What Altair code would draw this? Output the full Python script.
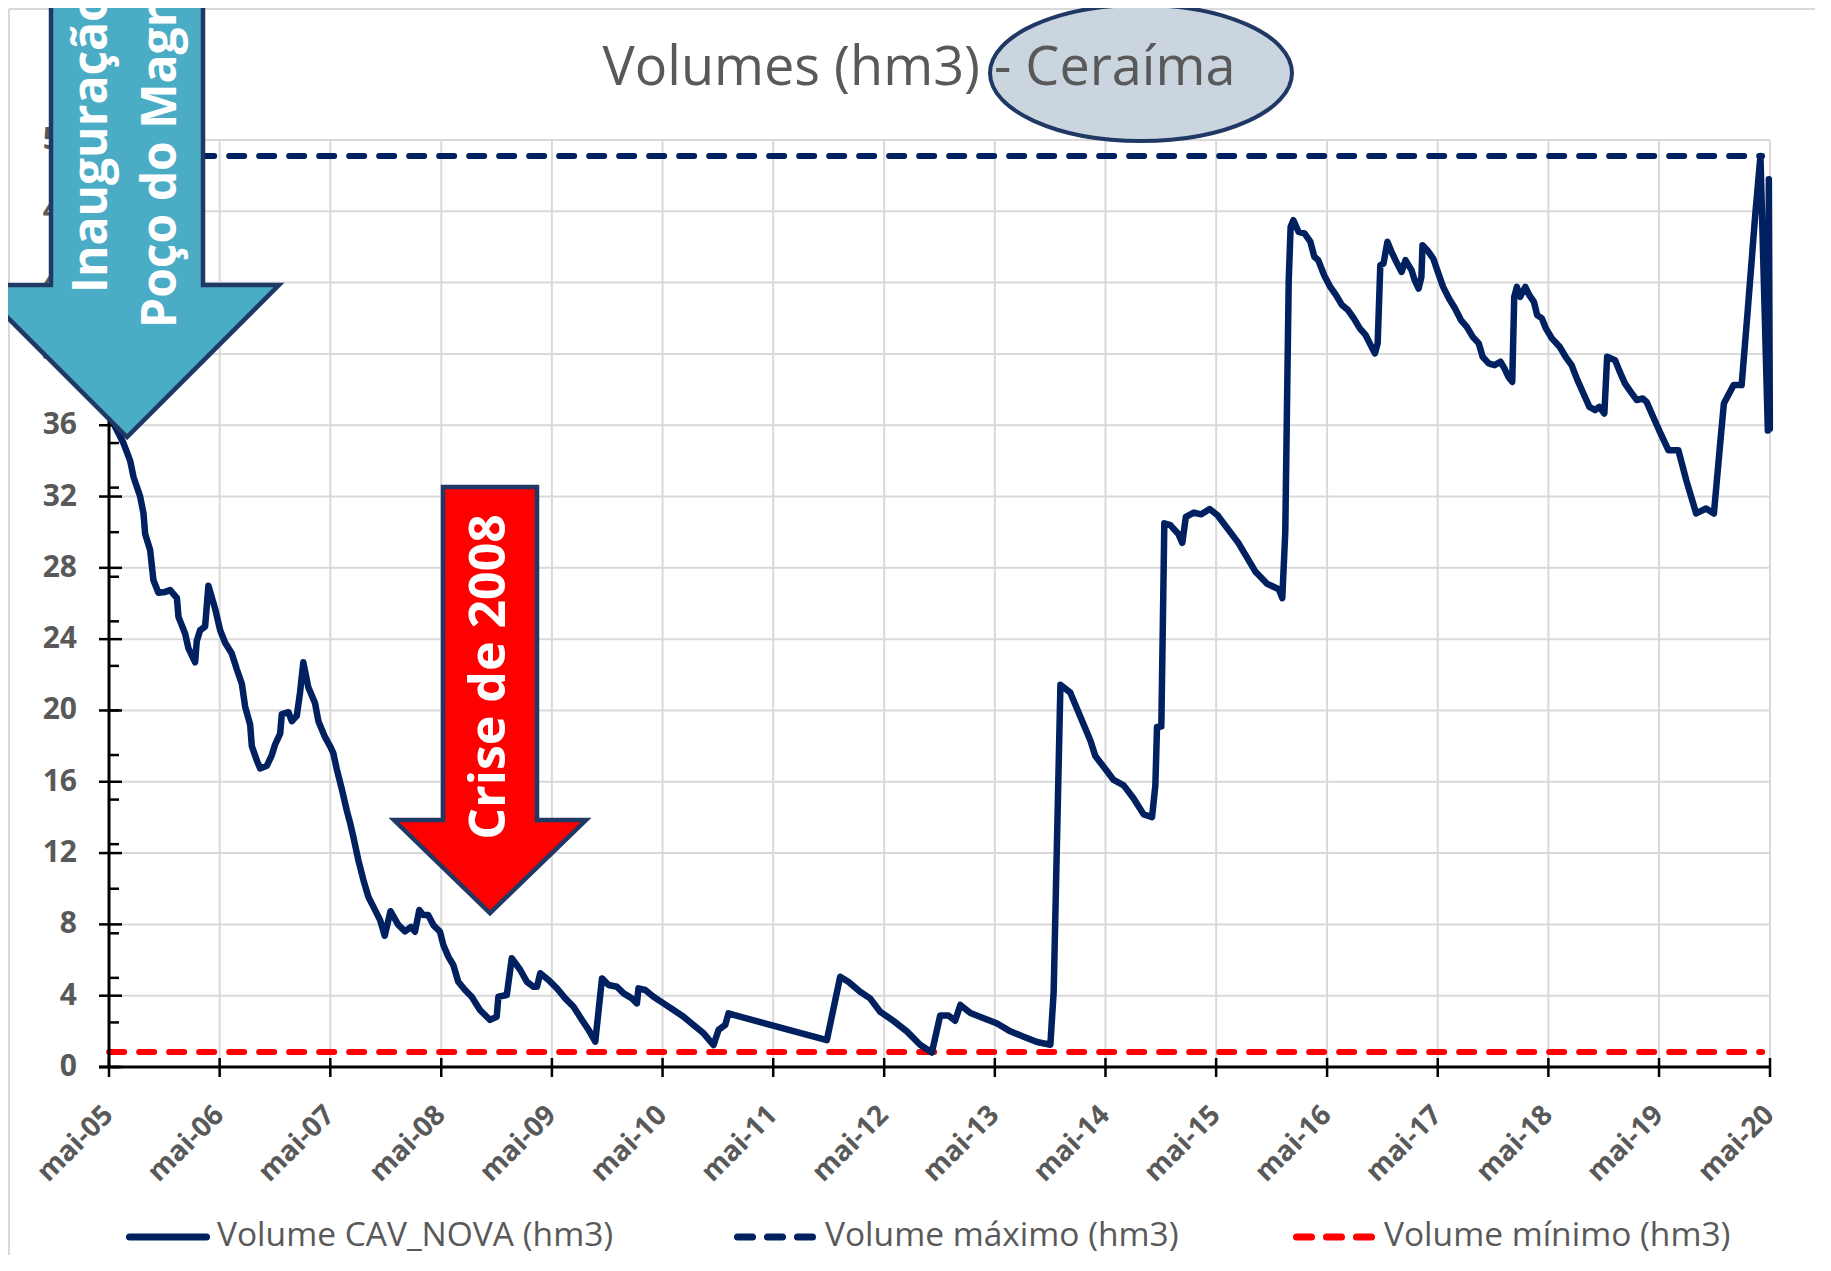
import altair as alt
import pandas as pd

# ---------------- data ----------------
# decimal year of each reading (May 1st 2005 = 2005.33)
years = [
    2005.330, 2005.369, 2005.459, 2005.520, 2005.550, 2005.610, 2005.640, 2005.655, 2005.700, 2005.730,
    2005.775, 2005.836, 2005.881, 2005.942, 2005.956, 2006.017, 2006.046, 2006.107, 2006.122, 2006.152,
    2006.197, 2006.227, 2006.288, 2006.333, 2006.378, 2006.438, 2006.484, 2006.529, 2006.559, 2006.604,
    2006.619, 2006.664, 2006.694, 2006.755, 2006.800, 2006.830, 2006.875, 2006.890, 2006.950, 2006.980,
    2007.026, 2007.055, 2007.085, 2007.130, 2007.191, 2007.221, 2007.281, 2007.326, 2007.356, 2007.387,
    2007.432, 2007.477, 2007.507, 2007.537, 2007.582, 2007.627, 2007.672, 2007.733, 2007.778, 2007.820,
    2007.872, 2007.941, 2008.004, 2008.058, 2008.094, 2008.133, 2008.169, 2008.214, 2008.260, 2008.320,
    2008.350, 2008.395, 2008.440, 2008.485, 2008.546, 2008.606, 2008.681, 2008.772, 2008.832, 2008.847,
    2008.923, 2008.968, 2009.043, 2009.103, 2009.163, 2009.194, 2009.223, 2009.298, 2009.374, 2009.449,
    2009.524, 2009.600, 2009.660, 2009.720, 2009.781, 2009.840, 2009.916, 2009.976, 2010.052, 2010.097,
    2010.111, 2010.172, 2010.247, 2010.337, 2010.428, 2010.518, 2010.608, 2010.699, 2010.789, 2010.834,
    2010.895, 2010.924, 2010.970, 2011.813, 2011.933, 2012.008, 2012.114, 2012.204, 2012.295, 2012.415,
    2012.536, 2012.656, 2012.762, 2012.837, 2012.912, 2012.972, 2013.017, 2013.108, 2013.228, 2013.349,
    2013.469, 2013.589, 2013.710, 2013.830, 2013.860, 2013.921, 2014.011, 2014.101, 2014.192, 2014.237,
    2014.312, 2014.402, 2014.493, 2014.583, 2014.673, 2014.749, 2014.779, 2014.794, 2014.833, 2014.860,
    2014.914, 2014.987, 2015.023, 2015.055, 2015.127, 2015.194, 2015.270, 2015.341, 2015.529, 2015.682,
    2015.791, 2015.895, 2015.926, 2015.953, 2015.984, 2016.002, 2016.027, 2016.073, 2016.127, 2016.180,
    2016.216, 2016.251, 2016.306, 2016.360, 2016.412, 2016.466, 2016.520, 2016.573, 2016.627, 2016.680,
    2016.717, 2016.763, 2016.788, 2016.812, 2016.841, 2016.876, 2016.913, 2016.949, 2017.002, 2017.037,
    2017.092, 2017.120, 2017.156, 2017.181, 2017.191, 2017.234, 2017.288, 2017.324, 2017.377, 2017.430,
    2017.485, 2017.538, 2017.591, 2017.645, 2017.699, 2017.734, 2017.788, 2017.841, 2017.895, 2017.931,
    2017.966, 2018.002, 2018.020, 2018.044, 2018.073, 2018.120, 2018.156, 2018.198, 2018.227, 2018.270,
    2018.306, 2018.360, 2018.430, 2018.484, 2018.538, 2018.591, 2018.645, 2018.699, 2018.752, 2018.788,
    2018.834, 2018.859, 2018.931, 2018.967, 2019.020, 2019.073, 2019.128, 2019.181, 2019.216, 2019.288,
    2019.342, 2019.413, 2019.503, 2019.574, 2019.664, 2019.753, 2019.824, 2019.878, 2019.914, 2020.002,
    2020.075, 2020.128, 2020.199, 2020.245, 2020.312, 2020.321, 2020.330,
]

# Volume CAV_NOVA (hm3)
volume = [
    37.2, 36.1, 35.0, 34.0, 33.1, 32.0, 31.05, 29.9, 29.0, 27.3,
    26.6, 26.65, 26.75, 26.3, 25.25, 24.3, 23.5, 22.7, 23.9, 24.5,
    24.7, 27.0, 25.7, 24.5, 23.8, 23.2, 22.3, 21.5, 20.2, 19.2,
    18.0, 17.2, 16.75, 16.9, 17.5, 18.1, 18.7, 19.8, 19.9, 19.4,
    19.7, 21.0, 22.7, 21.3, 20.4, 19.4, 18.5, 18.0, 17.6, 16.7,
    15.6, 14.4, 13.7, 12.9, 11.6, 10.5, 9.55, 8.8, 8.25, 7.36,
    8.74, 7.99, 7.61, 7.86, 7.59, 8.81, 8.52, 8.52, 7.96, 7.59,
    6.84, 6.19, 5.72, 4.78, 4.32, 3.94, 3.20, 2.64, 2.82, 3.94,
    4.04, 6.10, 5.44, 4.78, 4.50, 4.50, 5.26, 4.88, 4.41, 3.85,
    3.38, 2.64, 2.08, 1.42, 4.97, 4.60, 4.50, 4.13, 3.85, 3.57,
    4.41, 4.32, 3.94, 3.57, 3.20, 2.82, 2.36, 1.89, 1.23, 2.08,
    2.36, 3.01, 2.92, 1.51, 5.06, 4.78, 4.22, 3.85, 3.10, 2.59,
    2.0, 1.25, 0.81, 2.89, 2.89, 2.59, 3.48, 3.03, 2.74, 2.44,
    2.0, 1.70, 1.40, 1.25, 4.22, 21.44, 21.0, 19.66, 18.32, 17.44,
    16.84, 16.1, 15.8, 15.06, 14.17, 14.02, 15.8, 19.07, 19.1, 30.5,
    30.4, 29.9, 29.4, 30.86, 31.1, 31.0, 31.3, 30.95, 29.4, 27.8,
    27.1, 26.8, 26.3, 30.0, 44.1, 47.13, 47.5, 46.85, 46.76, 46.3,
    45.45, 45.26, 44.4, 43.76, 43.3, 42.74, 42.46, 41.99, 41.43, 41.05,
    40.59, 40.03, 40.59, 44.98, 45.07, 46.29, 45.73, 45.26, 44.6, 45.26,
    44.7, 44.14, 43.67, 44.32, 46.1, 45.82, 45.35, 44.7, 43.76, 43.11,
    42.55, 41.9, 41.52, 40.96, 40.59, 39.84, 39.47, 39.37, 39.56, 39.19,
    38.72, 38.43, 43.2, 43.76, 43.2, 43.76, 43.3, 42.92, 42.18, 41.99,
    41.43, 40.87, 40.4, 39.84, 39.37, 38.53, 37.78, 37.03, 36.85, 37.03,
    36.66, 39.84, 39.65, 39.09, 38.35, 37.87, 37.41, 37.5, 37.31, 36.29,
    35.54, 34.6, 34.6, 32.92, 31.05, 31.33, 31.05, 34.79, 37.22, 38.25,
    38.25, 42.27, 47.88, 51.1, 35.7, 49.8, 35.8,
]
assert len(years) == len(volume)

MAX_VOLUME = 51.1          # Volume máximo (hm3)
MIN_VOLUME = 0.84          # Volume mínimo (hm3)
LIMIT_YEARS = [2005.33, 2020.26]

Y_TICKS = list(range(0, 53, 4))
Y_LABELS = [str(v) for v in Y_TICKS]
Y_MINOR = [i * 2.5 for i in range(21)]
X_YEARS = list(range(2005, 2021))
X_LABELS = ["mai-%02d" % (y % 100) for y in X_YEARS]

TITLE = "Volumes (hm3) - Ceraíma"
LEGEND_LABELS = ["Volume CAV_NOVA (hm3)", "Volume máximo (hm3)", "Volume mínimo (hm3)"]
INAUG_LINES = ["Inauguração", "Poço do Magro"]
CRISE_TEXT = "Crise de 2008"

# ---------------- styles ----------------
NAVY = "#002060"
RED = "#FF0000"
GRAY_TXT = "#595959"
GRID = "#D9D9D9"
OUTLINE = "#1F3864"
FONT = "Open Sans"
W, H = 1661, 927
PAD = {"left": 101, "top": 132, "right": 45, "bottom": 190}


def to_ts(y):
    yi = int(y)
    return pd.Timestamp(year=yi, month=1, day=1) + pd.Timedelta(days=(y - yi) * 365.25)


df = pd.DataFrame({"date": [to_ts(y) for y in years], "volume": volume})
lim_max = pd.DataFrame({"start": [to_ts(LIMIT_YEARS[0])], "end": [to_ts(LIMIT_YEARS[1])], "value": [MAX_VOLUME]})
lim_min = pd.DataFrame({"start": [to_ts(LIMIT_YEARS[0])], "end": [to_ts(LIMIT_YEARS[1])], "value": [MIN_VOLUME]})
xt = pd.DataFrame({"d": [pd.Timestamp(year=y, month=5, day=1) for y in X_YEARS], "lab": X_LABELS})
yt = pd.DataFrame({"v": Y_TICKS, "lab": Y_LABELS})
ym = pd.DataFrame({"v": Y_MINOR})
one = pd.DataFrame({"k": [0]})

x_scale = alt.Scale(domain=[alt.DateTime(year=2005, month=5, date=1),
                            alt.DateTime(year=2020, month=5, date=1)], nice=False)
y_scale = alt.Scale(domain=[0, 52], nice=False)

X = lambda f: alt.X(f, scale=x_scale, axis=None, title=None)
Y = lambda f: alt.Y(f, scale=y_scale, axis=None, title=None)

# outer chart border (light gray)
border_left = alt.Chart(one).mark_rule(color=GRID, strokeWidth=2).encode(
    x=alt.value(-100), y=alt.value(-131), y2=alt.value(H + PAD["bottom"] - 2))
border_top = alt.Chart(one).mark_rule(color=GRID, strokeWidth=2).encode(
    x=alt.value(-100), x2=alt.value(W + PAD["right"]), y=alt.value(-131))

# grid
grid_y = alt.Chart(yt).mark_rule(color=GRID, strokeWidth=2).encode(
    y=Y("v:Q"), x=alt.value(0), x2=alt.value(W))
grid_x = alt.Chart(xt).mark_rule(color=GRID, strokeWidth=2).encode(
    x=X("d:T"), y=alt.value(0), y2=alt.value(H))

# series
main = alt.Chart(df).mark_line(color=NAVY, strokeWidth=6.5, strokeJoin="round", strokeCap="round").encode(
    x=X("date:T"), y=Y("volume:Q"))
max_rule = alt.Chart(lim_max).mark_rule(color=NAVY, strokeWidth=6, strokeDash=[15, 15], strokeCap="round").encode(
    x=X("start:T"), x2="end:T", y=Y("value:Q"))
min_rule = alt.Chart(lim_min).mark_rule(color=RED, strokeWidth=6, strokeDash=[15, 15], strokeCap="round").encode(
    x=X("start:T"), x2="end:T", y=Y("value:Q"))

# axis lines, ticks crossing the axis lines, labels
dom_y = alt.Chart(one).mark_rule(color="black", strokeWidth=3).encode(
    x=alt.value(0), y=alt.value(0), y2=alt.value(H))
dom_x = alt.Chart(one).mark_rule(color="black", strokeWidth=3).encode(
    x=alt.value(-10), x2=alt.value(W), y=alt.value(H))
y_major = alt.Chart(yt).mark_rule(color="black", strokeWidth=2.5).encode(
    y=Y("v:Q"), x=alt.value(-10), x2=alt.value(13))
y_minor = alt.Chart(ym).mark_rule(color="black", strokeWidth=2.5).encode(
    y=Y("v:Q"), x=alt.value(0), x2=alt.value(10))
x_major = alt.Chart(xt).mark_rule(color="black", strokeWidth=2.5).encode(
    x=X("d:T"), y=alt.value(H - 9), y2=alt.value(H + 10))
y_labels = alt.Chart(yt).mark_text(align="right", baseline="middle", font=FONT, fontSize=30,
                                   fontWeight="bold", color=GRAY_TXT).encode(
    y=Y("v:Q"), x=alt.value(-32), text="lab:N")
x_labels = alt.Chart(xt).mark_text(align="right", baseline="middle", angle=315, font=FONT, fontSize=28,
                                   fontWeight="bold", color=GRAY_TXT).encode(
    x=X("d:T"), y=alt.value(H + 44), text="lab:N")

# annotation arrows (custom symbol paths, size=4 -> path units are pixels)
BLUE_ARROW = "M -76 -497 L 76 -497 L 76 -152 L 152 -152 L 0 0 L -152 -152 L -76 -152 Z"
RED_ARROW = "M -47 -426 L 47 -426 L 47 -93 L 96 -93 L 0 0 L -96 -93 L -47 -93 Z"
ELLIPSE = ("M -151 0 C -151 -37.6 -83.4 -68 0 -68 C 83.4 -68 151 -37.6 151 0 "
           "C 151 37.6 83.4 68 0 68 C -83.4 68 -151 37.6 -151 0 Z")

blue_arrow = alt.Chart(one).mark_point(
    shape=BLUE_ARROW, size=4, filled=True, fill="#4BACC6", stroke=OUTLINE, strokeWidth=4.5, opacity=1,
    strokeJoin="miter").encode(x=alt.value(18), y=alt.value(297))
inaug1 = alt.Chart(one).mark_text(
    text=INAUG_LINES[0], angle=270, align="left", baseline="middle", font=FONT, fontSize=48,
    fontWeight="bold", color="white").encode(x=alt.value(-16), y=alt.value(153))
inaug2 = alt.Chart(one).mark_text(
    text=INAUG_LINES[1], angle=270, align="left", baseline="middle", font=FONT, fontSize=48,
    fontWeight="bold", color="white").encode(x=alt.value(53), y=alt.value(188))

red_arrow = alt.Chart(one).mark_point(
    shape=RED_ARROW, size=4, filled=True, fill=RED, stroke=OUTLINE, strokeWidth=4.5, opacity=1,
    strokeJoin="miter").encode(x=alt.value(381), y=alt.value(773))
crise = alt.Chart(one).mark_text(
    text=CRISE_TEXT, angle=270, align="center", baseline="middle", font=FONT, fontSize=50,
    fontWeight="bold", color="white").encode(x=alt.value(381), y=alt.value(537))

ellipse = alt.Chart(one).mark_point(
    shape=ELLIPSE, size=4, filled=True, fill="#CBD5E0", stroke=OUTLINE, strokeWidth=4, opacity=1
).encode(x=alt.value(1032), y=alt.value(-67))
title = alt.Chart(one).mark_text(
    text=TITLE, align="center", baseline="alphabetic", font=FONT, fontSize=54, color=GRAY_TXT
).encode(x=alt.value(810), y=alt.value(-55))

# legend (drawn manually to reproduce the Excel layout)
LEG_Y = 1097
leg1 = alt.Chart(one).mark_rule(color=NAVY, strokeWidth=7, strokeCap="round").encode(
    x=alt.value(20.5), x2=alt.value(97.5), y=alt.value(LEG_Y))
leg2 = alt.Chart(one).mark_rule(color=NAVY, strokeWidth=7, strokeCap="round", strokeDash=[15, 15]).encode(
    x=alt.value(628.5), x2=alt.value(706), y=alt.value(LEG_Y))
leg3 = alt.Chart(one).mark_rule(color=RED, strokeWidth=7, strokeCap="round", strokeDash=[15, 15]).encode(
    x=alt.value(1187.5), x2=alt.value(1266), y=alt.value(LEG_Y))
leg_texts = [
    alt.Chart(one).mark_text(text=lab, align="left", baseline="alphabetic", font=FONT, fontSize=33.5,
                             color=GRAY_TXT).encode(x=alt.value(xp), y=alt.value(LEG_Y + 9))
    for lab, xp in zip(LEGEND_LABELS, [108, 716, 1275])
]

chart = alt.layer(
    border_left, border_top,
    grid_y, grid_x,
    max_rule, min_rule, main,
    dom_y, dom_x, y_major, y_minor, x_major,
    y_labels, x_labels,
    blue_arrow, inaug1, inaug2,
    red_arrow, crise,
    ellipse, title,
    leg1, leg2, leg3, *leg_texts,
).properties(
    width=W, height=H,
    autosize=alt.AutoSizeParams(type="none"),
    padding=PAD,
    background="white",
).configure_view(stroke=None)

chart.save("out.html", embed_options={"renderer": "svg", "actions": False})
